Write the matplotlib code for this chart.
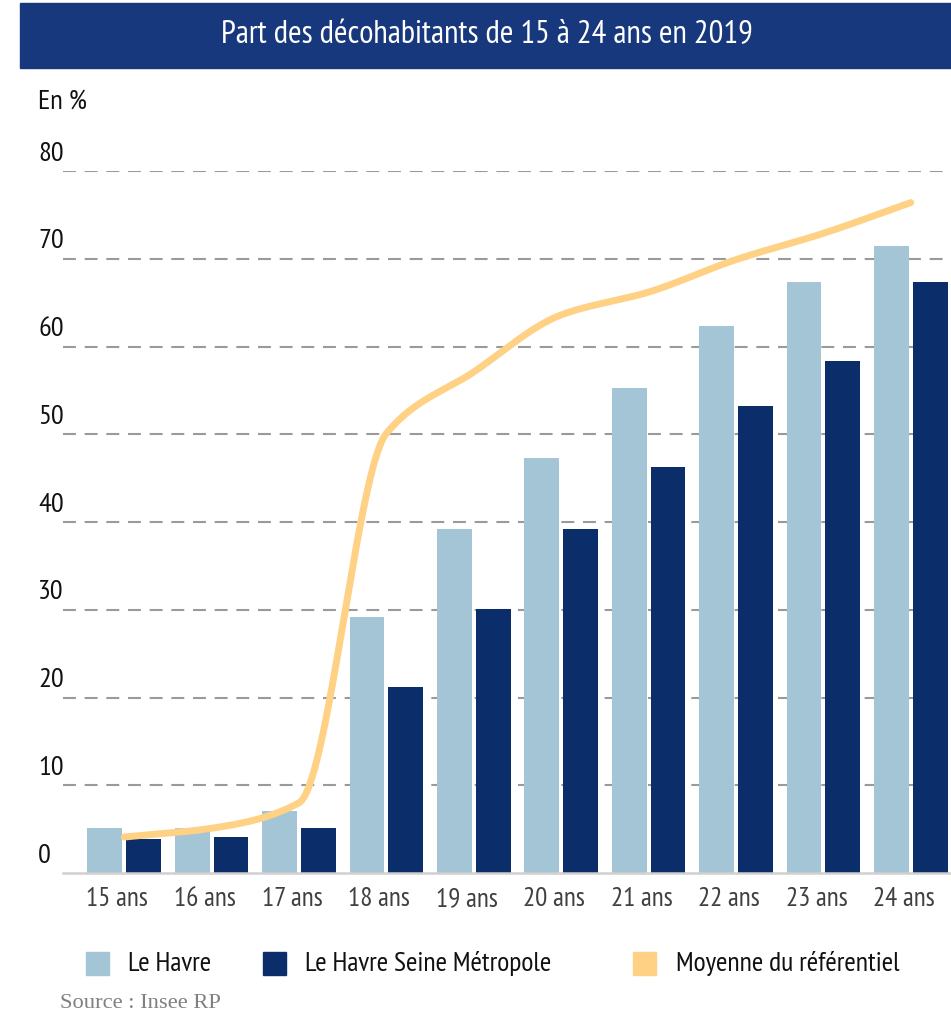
import numpy as np
import matplotlib
matplotlib.use("Agg")
import matplotlib.pyplot as plt
import matplotlib.transforms as mtransforms
from matplotlib.patches import Rectangle

# ---- data ----
categories = ["15 ans", "16 ans", "17 ans", "18 ans", "19 ans",
              "20 ans", "21 ans", "22 ans", "23 ans", "24 ans"]
le_havre = [5.1, 5.1, 7.1, 29.2, 39.2, 47.3, 55.3, 62.3, 67.4, 71.4]
metropole = [3.9, 4.1, 5.1, 21.2, 30.1, 39.2, 46.3, 53.2, 58.3, 67.4]
moyenne = [4.1, 5.1, 8.0, 50.1, 57.1, 63.6, 66.2, 69.9, 72.9, 76.4]
yticks = [0, 10, 20, 30, 40, 50, 60, 70, 80]

title = "Part des décohabitants de 15 à 24 ans en 2019"
series_names = ["Le Havre", "Le Havre Seine Métropole", "Moyenne du référentiel"]

# ---- style ----
C_LIGHT = "#A3C5D5"
C_DARK = "#0B2E6B"
C_LINE = "#FFD185"
C_BANNER = "#17387C"
FONT = ["PT Sans Narrow", "DejaVu Sans"]
plt.rcParams["font.family"] = FONT

W, H = 951, 1014
fig = plt.figure(figsize=(W / 100, H / 100), dpi=100)


def fx(px):
    return px / W


def fy(py):
    return 1 - py / H


# banner
fig.patches.append(Rectangle((fx(20), fy(68)), fx(951) - fx(20), fy(3) - fy(68),
                             transform=fig.transFigure, color=C_BANNER, zorder=0))
fig.text(fx(487), fy(35), title, color="white", fontsize=23.6, ha="center", va="center")

# axes
ax = fig.add_axes([fx(63), fy(873), 1 - fx(63), fy(171) - fy(873)])
x = np.arange(len(categories))
ax.set_xlim(-0.70, len(categories) - 1 + 0.46)
ax.set_ylim(0, 80)

for t in yticks[1:]:
    ax.axhline(t, color="#9a9a9a", lw=1.5, dashes=(6.2, 4.2), zorder=1)
ax.axhline(0, color="#d0d0d0", lw=1.8, zorder=4, clip_on=False)

bw = 0.40
off = 0.222
ax.bar(x - off, le_havre, width=bw, color=C_LIGHT, zorder=2, linewidth=0)
ax.bar(x + off, metropole, width=bw, color=C_DARK, zorder=2, linewidth=0)


def pchip(xk, yk, xs):
    xk = np.asarray(xk, float)
    yk = np.asarray(yk, float)
    h = np.diff(xk)
    d = np.diff(yk) / h
    n = len(xk)
    m = np.zeros(n)
    for k in range(1, n - 1):
        if d[k - 1] * d[k] > 0:
            w1 = 2 * h[k] + h[k - 1]
            w2 = h[k] + 2 * h[k - 1]
            m[k] = (w1 + w2) / (w1 / d[k - 1] + w2 / d[k])
    m[0] = d[0]
    m[-1] = d[-1]
    idx = np.clip(np.searchsorted(xk, xs) - 1, 0, n - 2)
    t = (xs - xk[idx]) / h[idx]
    h00 = 2 * t**3 - 3 * t**2 + 1
    h10 = t**3 - 2 * t**2 + t
    h01 = -2 * t**3 + 3 * t**2
    h11 = t**3 - t**2
    return (h00 * yk[idx] + h10 * h[idx] * m[idx]
            + h01 * yk[idx + 1] + h11 * h[idx] * m[idx + 1])


xs = np.linspace(0, len(categories) - 1, 600)
ax.plot(xs, pchip(x, moyenne, xs), color=C_LINE, lw=5, solid_capstyle="round",
        zorder=3)

# y labels (left-aligned, above the gridlines)
ax.set_yticks(yticks)
ax.set_yticklabels([])
ax.tick_params(axis="y", length=0)
ytr = ax.get_yaxis_transform()
xlab = (38 - 63) / (951 - 63)
for t in yticks:
    ax.annotate(str(t), xy=(xlab, t), xycoords=ytr, xytext=(0, 12.5),
                textcoords="offset points", ha="left", va="center",
                fontsize=20.5, color="#111111", annotation_clip=False)
fig.text(fx(38), fy(102), "En %", fontsize=20.5, color="#111111", ha="left", va="center")

ax.set_xticks(x)
ax.set_xticklabels(categories, fontsize=19.5, color="#404040")
ax.tick_params(axis="x", length=0, pad=24)
shift = mtransforms.ScaledTranslation(-7 / 100, 0, fig.dpi_scale_trans)
for lbl in ax.get_xticklabels():
    lbl.set_verticalalignment("baseline")
    lbl.set_transform(lbl.get_transform() + shift)
for s in ax.spines.values():
    s.set_visible(False)

# legend (manual)
legend_items = [(86, C_LIGHT, series_names[0], 128),
                (263, C_DARK, series_names[1], 305),
                (633, C_LINE, series_names[2], 676)]
for sx, col, lab, tx in legend_items:
    fig.patches.append(Rectangle((fx(sx), fy(975)), fx(23), fy(952) - fy(975),
                                 transform=fig.transFigure, color=col))
    fig.text(fx(tx), fy(964), lab, fontsize=20, color="#111111", ha="left", va="center")

fig.text(fx(60), fy(1003), "Source : Insee RP", fontsize=16.2, color="#808080",
         ha="left", va="center", family=["Liberation Serif", "DejaVu Serif"])

fig.savefig("out.png", dpi=100)
